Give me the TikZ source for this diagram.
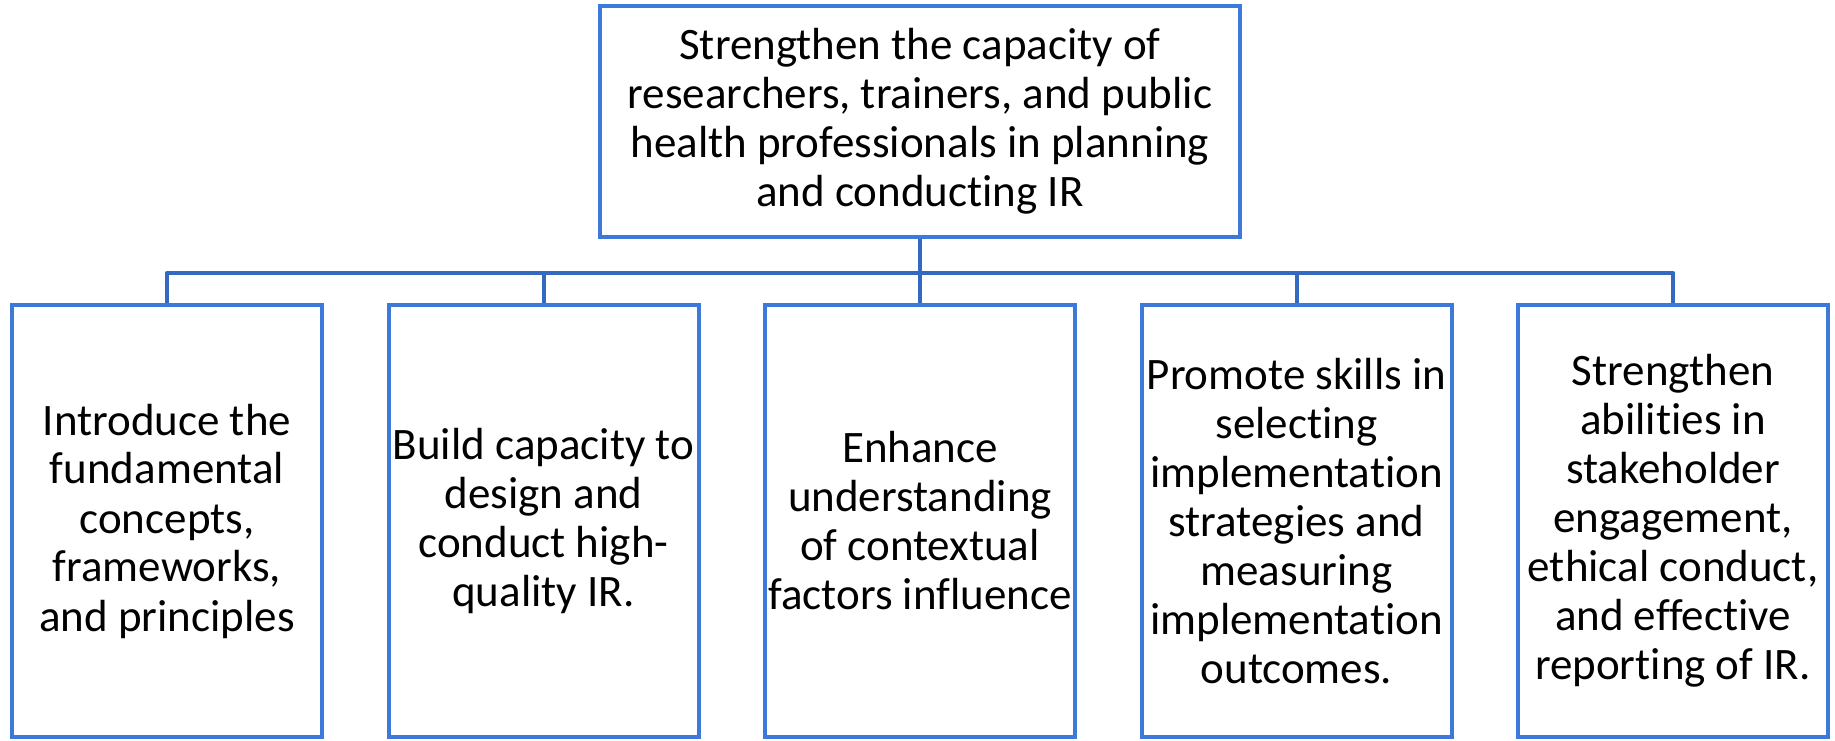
\documentclass[tikz,border=0pt]{standalone}
\usepackage{fontspec}
\setmainfont[Ligatures={NoCommon,NoContextual}]{Carlito}
\usepackage{tikz}
\usetikzlibrary{positioning}
\definecolor{boxblue}{RGB}{61,121,216}
\definecolor{linkblue}{RGB}{52,105,193}

\begin{document}
\begin{tikzpicture}[
  x=0.5pt, y=0.5pt,
  aim/.style = {draw=boxblue, line width=2pt, fill=white, align=center,
    inner sep=0pt, font=\fontsize{22.5}{24.5}\selectfont},
  goal box/.style = {aim, minimum width=320pt, minimum height=115.5pt},
  objective/.style = {aim, minimum width=155pt, minimum height=216pt},
  link/.style = {draw=linkblue, line width=2pt, line join=round},
  ]
  \useasboundingbox (0,0) rectangle (1835,740);
  \node[goal box] (goal) at (920,618.5) {Strengthen the capacity of\\
    researchers, trainers, and public\\
    health professionals in planning\\
    and conducting IR};
  \node[objective] (obj1) at (167,219) {Introduce the\\ fundamental\\
    concepts,\\ frameworks,\\ and principles};
  \node[objective] (obj2) at (543.5,219) {Build capacity to\\ design and\\
    conduct high-\\ quality IR.};
  \node[objective] (obj3) at (920,219) {Enhance\\ understanding\\
    of contextual\\ factors influence};
  \node[objective] (obj4) at (1296.5,219) {Promote skills in\\ selecting\\
    implementation\\ strategies and\\ measuring\\ implementation\\ outcomes.};
  \node[objective] (obj5) at (1673,219) {Strengthen\\ abilities in\\
    stakeholder\\ engagement,\\ ethical conduct,\\ and effective\\
    reporting of IR.};
  % tree connectors
  \foreach \i in {1,...,5} {
    \draw[link] (goal.south) -- ++(0,-34) -| (obj\i.north);
  }
\end{tikzpicture}
\end{document}
